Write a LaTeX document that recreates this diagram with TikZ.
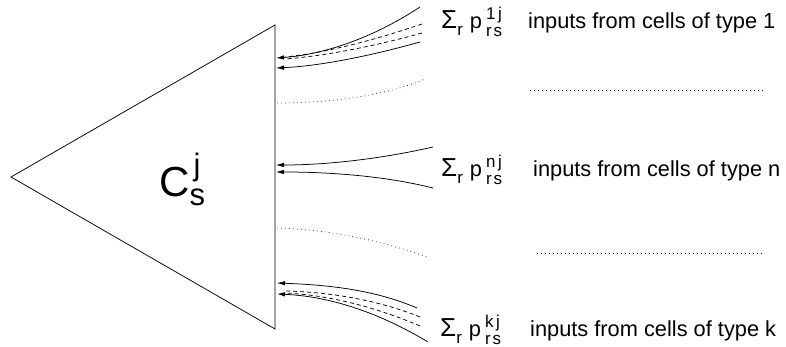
\documentclass[tikz,border=0pt]{standalone}
\usepackage{fontspec}
\setmainfont{Liberation Sans}
\usetikzlibrary{arrows.meta}
\newcommand{\smallfs}{\fontsize{17}{17}\selectfont}
\newcommand{\sumlabel}[1]{{\fontsize{26}{26}\selectfont Σ}\raisebox{-7pt}{\smallfs r}\hspace{7pt}p\hspace{4pt}\rlap{\raisebox{9pt}{\smallfs #1\hspace{2.5pt}j}}\raisebox{-8pt}{\smallfs r\hspace{2pt}s}}
\begin{document}
\begin{tikzpicture}[x=1pt,y=-1pt,
  edge/.style={line width=0.75pt},
  arr/.style={edge,-{Latex[length=8pt,width=4.5pt]}},
  dsh/.style={edge,dash pattern=on 4pt off 3pt},
  dots/.style={line width=0.7pt,dash pattern=on 0.7pt off 3.3pt},
  lbl/.style={inner sep=0pt,anchor=base west,font=\fontsize{21.8}{24}\selectfont}]
\useasboundingbox (0,0) rectangle (786,347);
% triangle
\coordinate (apex) at (11,177);
\coordinate (top) at (275,25);
\coordinate (bot) at (275,329);
\draw[edge] (apex) -- (top) -- (bot) -- cycle;
% cell label
\node[lbl] (cell) at (159,197) {{\fontsize{42}{42}\selectfont C}\rlap{\hspace{4pt}\raisebox{21.5pt}{\fontsize{31}{31}\selectfont j}}\raisebox{-9pt}{\fontsize{31}{31}\selectfont s}};
% ---- group 1
\coordinate (a1s) at (420,7);   \coordinate (a1e) at (276,58);
\coordinate (d1s) at (422,24);  \coordinate (d1e) at (285,57);
\coordinate (d2s) at (422,33);  \coordinate (d2e) at (285,59);
\coordinate (a2s) at (420,42);  \coordinate (a2e) at (276,68);
\draw[arr] (a1s) .. controls (370,40) and (320,55) .. (a1e);
\draw[dsh] (d1s) .. controls (375,40) and (325,53) .. (d1e);
\draw[dsh] (d2s) .. controls (375,46) and (325,56) .. (d2e);
\draw[arr] (a2s) .. controls (370,56) and (320,66) .. (a2e);
\node[lbl] (sum1) at (441,29) {\sumlabel{1}};
\node[lbl] (txt1) at (528,29) {inputs from cells of type 1};
% dots after group 1
\coordinate (o1s) at (277,103); \coordinate (o1e) at (425,79);
\draw[dots] (o1s) .. controls (330,103) and (385,96) .. (o1e);
\coordinate (r1s) at (530,90); \coordinate (r1e) at (763,90);
\draw[dots] (r1s) -- (r1e);
% ---- group n
\coordinate (b1s) at (433,147); \coordinate (b1e) at (276,165);
\coordinate (b2s) at (433,188); \coordinate (b2e) at (276,172);
\draw[arr] (b1s) .. controls (385,158) and (330,165) .. (b1e);
\draw[arr] (b2s) .. controls (385,176) and (330,172) .. (b2e);
\node[lbl] (sumn) at (441,177) {\sumlabel{n}};
\node[lbl] (txtn) at (533,177) {inputs from cells of type n};
% dots after group n
\coordinate (o2s) at (277,228); \coordinate (o2e) at (427,257);
\draw[dots] (o2s) .. controls (340,230) and (390,244) .. (o2e);
\coordinate (r2s) at (537,253); \coordinate (r2e) at (763,253);
\draw[dots] (r2s) -- (r2e);
% ---- group k
\coordinate (c1s) at (417,308); \coordinate (c1e) at (277,283);
\coordinate (e1s) at (420,317); \coordinate (e1e) at (285,291);
\coordinate (e2s) at (420,326); \coordinate (e2e) at (285,293);
\coordinate (c2s) at (428,342); \coordinate (c2e) at (277,294);
\draw[arr] (c1s) .. controls (375,290) and (330,285) .. (c1e);
\draw[dsh] (e1s) .. controls (378,300) and (330,292) .. (e1e);
\draw[dsh] (e2s) .. controls (378,308) and (330,295) .. (e2e);
\draw[arr] (c2s) .. controls (375,310) and (325,296) .. (c2e);
\node[lbl] (sumk) at (440,336) {\sumlabel{k}};
\node[lbl] (txtk) at (530,336) {inputs from cells of type k};
\end{tikzpicture}
\end{document}
